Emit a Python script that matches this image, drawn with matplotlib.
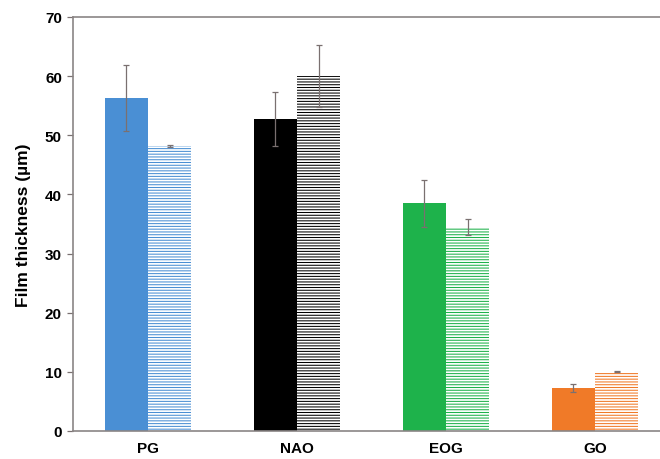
import matplotlib.pyplot as plt
import numpy as np

plt.rcParams['font.family'] = ['Liberation Sans', 'DejaVu Sans']
plt.rcParams['hatch.linewidth'] = 0.75

# Datos
categories = ['PG', 'NAO', 'EOG', 'GO']
solid_vals = [56.3, 52.8, 38.5, 7.3]
solid_err = [5.6, 4.6, 4.0, 0.7]
hatch_vals = [48.2, 60.0, 34.5, 10.0]
hatch_err = [0.2, 5.2, 1.3, 0.1]
colors = ['#4a8fd4', '#000000', '#1eb24b', '#f07a28']

fig = plt.figure(figsize=(6.6, 4.6), dpi=100)
ax = fig.add_axes([0.1106, 0.0609, 0.8894, 0.9], )

x = np.arange(len(categories))
w = 0.29

ax.bar(x - w / 2, solid_vals, w, color=colors, linewidth=0)
ax.errorbar(x - w / 2, solid_vals, yerr=solid_err, fmt='none', ecolor='#7a7070',
            elinewidth=0.9, capsize=2.5, capthick=0.9)

for i in range(len(categories)):
    ax.bar(x[i] + w / 2, hatch_vals[i], w, color='white', edgecolor=colors[i],
           hatch='------', linewidth=0)
ax.errorbar(x + w / 2, hatch_vals, yerr=hatch_err, fmt='none', ecolor='#7a7070',
            elinewidth=0.9, capsize=2.5, capthick=0.9)

ax.set_xlim(-0.503, 3.436)
ax.set_ylim(0, 70)
ax.set_yticks(range(0, 71, 10))
ax.set_xticks(x)
ax.set_xticklabels(categories, fontsize=11, fontweight='bold')
ax.tick_params(axis='x', length=0, pad=7)
ax.tick_params(axis='y', direction='out', length=4, width=0.9, labelsize=11,
               colors='#7a7070', labelcolor='black', pad=4)
for lbl in ax.get_yticklabels():
    lbl.set_fontweight('bold')

for s in ['left', 'bottom', 'top']:
    ax.spines[s].set_color('#8a8585')
    ax.spines[s].set_linewidth(1.2)
ax.spines['right'].set_visible(False)

ax.set_ylabel('Film thickness (µm)', fontsize=12.5, fontweight='bold', labelpad=10)

fig.savefig('out.png', dpi=100)
